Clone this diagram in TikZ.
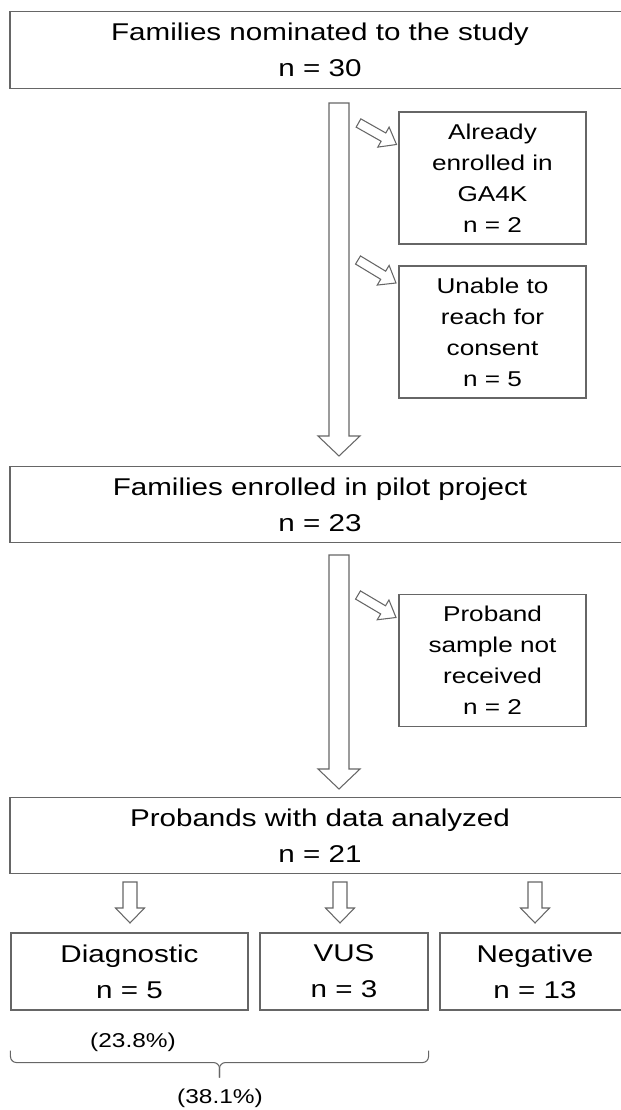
\documentclass[tikz,border=0pt]{standalone}
\usepackage{fontspec}
\setmainfont{Liberation Sans}[FakeStretch=1.22]
\usetikzlibrary{calc}

\definecolor{edge}{gray}{0.4}
\newcommand\bigtxt{\fontsize{13.8}{20.5}\selectfont}
\newcommand\smalltxt{\fontsize{12.2}{17.6}\selectfont}
\newcommand\pcttxt{\fontsize{11.4}{13}\selectfont}

\tikzset{
  box/.style={draw=edge, line width=0.6pt, align=center, inner sep=0pt},
  wide box/.style={box, font=\bigtxt, minimum width=12.4cm, minimum height=1.53cm},
  side box/.style={box, font=\smalltxt, minimum width=3.74cm, minimum height=2.64cm},
  end box/.style={box, font=\bigtxt, minimum height=1.54cm},
  fat/.style n args={3}{draw=edge, line width=0.6pt, fill=white, line join=miter,
    to path={let \p3=($(\tikztotarget)!#3!(\tikztostart)$) in
      ($(\tikztostart)!#1!90:(\tikztotarget)$) -- ($(\p3)!#1!90:(\tikztotarget)$)
      -- ($(\p3)!#2!90:(\tikztotarget)$) -- (\tikztotarget)
      -- ($(\p3)!#2!-90:(\tikztotarget)$) -- ($(\p3)!#1!-90:(\tikztotarget)$)
      -- ($(\tikztostart)!#1!-90:(\tikztotarget)$) -- cycle}},
  big arrow/.style={fat={0.2cm}{0.42cm}{0.4cm}},
  down arrow/.style={fat={0.14cm}{0.29cm}{0.3cm}},
  side arrow/.style={fat={0.095cm}{0.23cm}{0.3cm}},
  brc/.style={draw=edge, line width=0.6pt, rounded corners=0.12cm}
}

\begin{document}
\begin{tikzpicture}

\useasboundingbox (0,0) rectangle (12.42,-22.2);

% main stream
\node[wide box] (nom) at (6.4,-1.0) {Families nominated to the study\\ n = 30};
\node[wide box] (enr) at (6.4,-10.09) {Families enrolled in pilot project\\ n = 23};
\node[wide box] (ana) at (6.4,-16.71) {Probands with data analyzed\\ n = 21};

% excluded
\node[side box] (gak) at (9.85,-3.56) {Already\\ enrolled in\\ GA4K\\ n = 2};
\node[side box] (nocons) at (9.85,-6.64) {Unable to\\ reach for\\ consent\\ n = 5};
\node[side box] (nosample) at (9.85,-13.21) {Proband\\ sample not\\ received\\ n = 2};

% results
\node[end box, minimum width=4.74cm] (diag) at (2.59,-19.43) {Diagnostic\\ n = 5};
\node[end box, minimum width=3.36cm] (vus) at (6.88,-19.43) {VUS\\ n = 3};
\node[end box, minimum width=3.8cm] (neg) at (10.7,-19.43) {Negative\\ n = 13};

\coordinate (s1) at (6.78,-2.06);
\coordinate (t1) at (6.78,-9.12);
\coordinate (s2) at (6.78,-11.1);
\coordinate (t2) at (6.78,-15.78);
\draw[big arrow] (s1) to (t1);
\draw[big arrow] (s2) to (t2);

\coordinate (d1) at (7.17,-2.46);
\coordinate (e1) at (7.93,-2.89);
\coordinate (d2) at (7.16,-5.2);
\coordinate (e2) at (7.92,-5.66);
\coordinate (d3) at (7.16,-11.9);
\coordinate (e3) at (7.92,-12.35);
\draw[side arrow] (d1) to (e1);
\draw[side arrow] (d2) to (e2);
\draw[side arrow] (d3) to (e3);

\foreach \x/\k in {2.6/a, 6.8/b, 10.7/c}{
  \coordinate (u\k) at (\x,-17.64);
  \coordinate (v\k) at (\x,-18.46);
  \draw[down arrow] (u\k) to (v\k);
}

\node[font=\pcttxt] (pdiag) at (2.66,-20.84) {(23.8\%)};

% brace under diagnostic and VUS
\coordinate (b1) at ([yshift=-0.8cm]diag.south west);
\coordinate (b2) at ([yshift=-0.8cm]vus.south east);
\coordinate (bm) at ($(b1)!0.5!(b2)+(0,-0.24)$);
\draw[brc] (b1) |- (bm) -- ++(0,-0.3);
\draw[brc] (b2) |- (bm) -- ++(0,-0.3);
\node[font=\pcttxt] (pboth) at (4.4,-21.96) {(38.1\%)};

\end{tikzpicture}
\end{document}
